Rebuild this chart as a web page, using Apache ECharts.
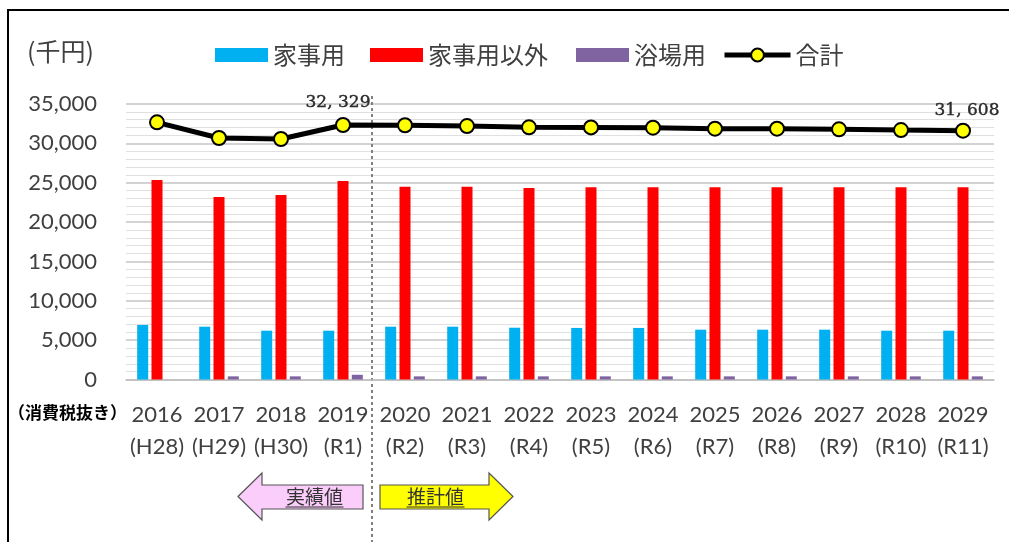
<!DOCTYPE html>
<html>
<head>
<meta charset="utf-8">
<script src="https://cdn.jsdelivr.net/npm/echarts@6/dist/echarts.min.js"></script>
<style>
html,body{margin:0;padding:0;background:#fff;}
#c{width:1009px;height:542px;}
</style>
</head>
<body>
<div id="c"></div>
<script>
// ---- data ----
const years = ['2016','2017','2018','2019','2020','2021','2022','2023','2024','2025','2026','2027','2028','2029'];
const eras = ['(H28)','(H29)','(H30)','(R1)','(R2)','(R3)','(R4)','(R5)','(R6)','(R7)','(R8)','(R9)','(R10)','(R11)'];
const kajiyo = [6930, 6710, 6200, 6200, 6710, 6710, 6580, 6550, 6550, 6330, 6330, 6330, 6200, 6200];
const kajiyoIgai = [25360, 23200, 23450, 25230, 24500, 24500, 24340, 24430, 24430, 24430, 24430, 24430, 24430, 24430];
const yokujo = [0, 400, 400, 600, 400, 400, 400, 400, 400, 400, 400, 400, 400, 400];
const total = [32670, 30680, 30550, 32329, 32300, 32200, 32040, 32030, 31990, 31860, 31860, 31780, 31690, 31608];
const labeledIdx = [3, 13];
const seriesNames = ['家事用', '家事用以外', '浴場用', '合計'];
const yTicks = { min: 0, max: 35000, interval: 5000 };

const fontLatin = "Lato, 'Noto Sans CJK JP', sans-serif";
const fontCJK = "'Noto Sans CJK JP', sans-serif";
const txtColor = '#404040';

const chart = echarts.init(document.getElementById('c'), null, { renderer: 'canvas' });

function fmtLabel(v) {
  return v.toLocaleString('en-US').replace(/,/g, ', ');
}

const barCommon = { type: 'bar', barWidth: 11, barGap: '30%' };
const legendText = { fontSize: 24, color: txtColor, fontFamily: fontCJK };

const option = {
  animation: false,
  backgroundColor: '#fff',
  grid: { left: 126, right: 15, top: 104, bottom: 162.5 },
  legend: [
    { data: [{ name: seriesNames[0], icon: 'rect' }], left: 215, top: 43, padding: 0, itemWidth: 53, itemHeight: 14, selectedMode: false, textStyle: legendText },
    { data: [{ name: seriesNames[1], icon: 'rect' }], left: 370, top: 43, padding: 0, itemWidth: 53, itemHeight: 14, selectedMode: false, textStyle: legendText },
    { data: [{ name: seriesNames[2], icon: 'rect' }], left: 576, top: 43, padding: 0, itemWidth: 53, itemHeight: 14, selectedMode: false, textStyle: legendText },
    { data: [seriesNames[3]], left: 722, top: 43, padding: 0, itemWidth: 66, itemHeight: 16, selectedMode: false,
      lineStyle: { width: 5, color: '#000' }, textStyle: legendText }
  ],
  xAxis: {
    type: 'category',
    data: years,
    axisTick: { show: false },
    axisLine: { show: true, lineStyle: { color: '#bfbfbf', width: 1.5 } },
    axisLabel: {
      interval: 0,
      margin: 19,
      fontSize: 22,
      lineHeight: 32,
      color: txtColor,
      fontFamily: fontLatin,
      formatter: (v, i) => v + '\n' + eras[i]
    }
  },
  yAxis: {
    type: 'value',
    min: yTicks.min, max: yTicks.max, interval: yTicks.interval,
    axisLine: { show: false },
    axisTick: { show: false },
    axisLabel: {
      margin: 29, fontSize: 22, color: txtColor, fontFamily: fontLatin,
      formatter: v => v.toLocaleString('en-US')
    },
    splitLine: { show: true, lineStyle: { color: '#c4c4c4', width: 1.5 } },
    minorTick: { show: false, splitNumber: 5 },
    minorSplitLine: { show: true, lineStyle: { color: '#e0e0e0', width: 1 } }
  },
  series: [
    Object.assign({ name: seriesNames[0], data: kajiyo, itemStyle: { color: '#00b0f0' } }, barCommon),
    Object.assign({ name: seriesNames[1], data: kajiyoIgai, itemStyle: { color: '#ff0000' } }, barCommon),
    Object.assign({ name: seriesNames[2], data: yokujo, itemStyle: { color: '#8064a2' } }, barCommon),
    {
      name: seriesNames[3], type: 'line', z: 5,
      data: total.map((v, i) => {
        if (labeledIdx.indexOf(i) >= 0) {
          return {
            value: v,
            label: {
              show: true, position: 'top', distance: 6,
              offset: i === 3 ? [-5, 0] : [4, 2],
              formatter: p => fmtLabel(p.value),
              fontFamily: "'DejaVu Serif', serif", fontSize: 17, color: '#2b2b2b',
              textBorderColor: '#2b2b2b', textBorderWidth: 0.4
            }
          };
        }
        return v;
      }),
      symbol: 'circle', symbolSize: 14,
      itemStyle: { color: '#ffff00', borderColor: '#000', borderWidth: 2 },
      lineStyle: { color: '#000', width: 5 }
    }
  ]
};

chart.setOption(option);

// ---- annotations ----
const x19 = chart.convertToPixel({ xAxisIndex: 0 }, years[3]);
const x20 = chart.convertToPixel({ xAxisIndex: 0 }, years[4]);
const xDiv = (x19 + x20) / 2 - 2;

const arrowTop = 473, arrowBot = 520, bodyTop = 485, bodyBot = 509, midY = 496.5;
const pL = xDiv - 134, pR = xDiv - 9;      // pink arrow extents
const yL = xDiv + 8, yR = xDiv + 141;      // yellow arrow extents
const head = 24;
const pinkTx = (pL + head + pR) / 2 + 2;
const yelTx = (yL + yR - head) / 2 + 1;

chart.setOption({
  graphic: [
    { type: 'rect', silent: true, shape: { x: 8, y: 10, width: 1010, height: 540 },
      style: { fill: 'none', stroke: '#000', lineWidth: 2 } },
    { type: 'text', left: 27, top: 39,
      style: { text: '(千円)', font: "25px 'Noto Sans CJK JP'", fill: txtColor } },
    { type: 'text', left: 8, top: 404,
      style: { text: '（消費税抜き）', font: "bold 17px 'Noto Sans CJK JP'", fill: '#000' } },
    { type: 'line', silent: true, shape: { x1: xDiv, y1: 96, x2: xDiv, y2: 542 },
      style: { stroke: '#808080', lineWidth: 2, lineDash: [3, 3] } },
    // pink arrow (left)
    { type: 'polygon', shape: { points: [
        [pL, midY], [pL + head, arrowTop], [pL + head, bodyTop], [pR, bodyTop],
        [pR, bodyBot], [pL + head, bodyBot], [pL + head, arrowBot]] },
      style: { fill: '#fbcdfb', stroke: '#555', lineWidth: 1.2 } },
    { type: 'text', x: pinkTx, y: midY,
      style: { text: '実績値', font: "19px 'Noto Sans CJK JP'", fill: '#333', textAlign: 'center', textVerticalAlign: 'middle' } },
    { type: 'line', shape: { x1: pinkTx - 29, y1: 507, x2: pinkTx + 29, y2: 507 },
      style: { stroke: '#333', lineWidth: 1 } },
    // yellow arrow (right)
    { type: 'polygon', shape: { points: [
        [yL, bodyTop], [yR - head, bodyTop], [yR - head, arrowTop], [yR, midY],
        [yR - head, arrowBot], [yR - head, bodyBot], [yL, bodyBot]] },
      style: { fill: '#ffff00', stroke: '#555', lineWidth: 1.2 } },
    { type: 'text', x: yelTx, y: midY,
      style: { text: '推計値', font: "19px 'Noto Sans CJK JP'", fill: '#333', textAlign: 'center', textVerticalAlign: 'middle' } },
    { type: 'line', shape: { x1: yelTx - 29, y1: 507, x2: yelTx + 29, y2: 507 },
      style: { stroke: '#333', lineWidth: 1 } }
  ]
});
</script>
</body>
</html>
